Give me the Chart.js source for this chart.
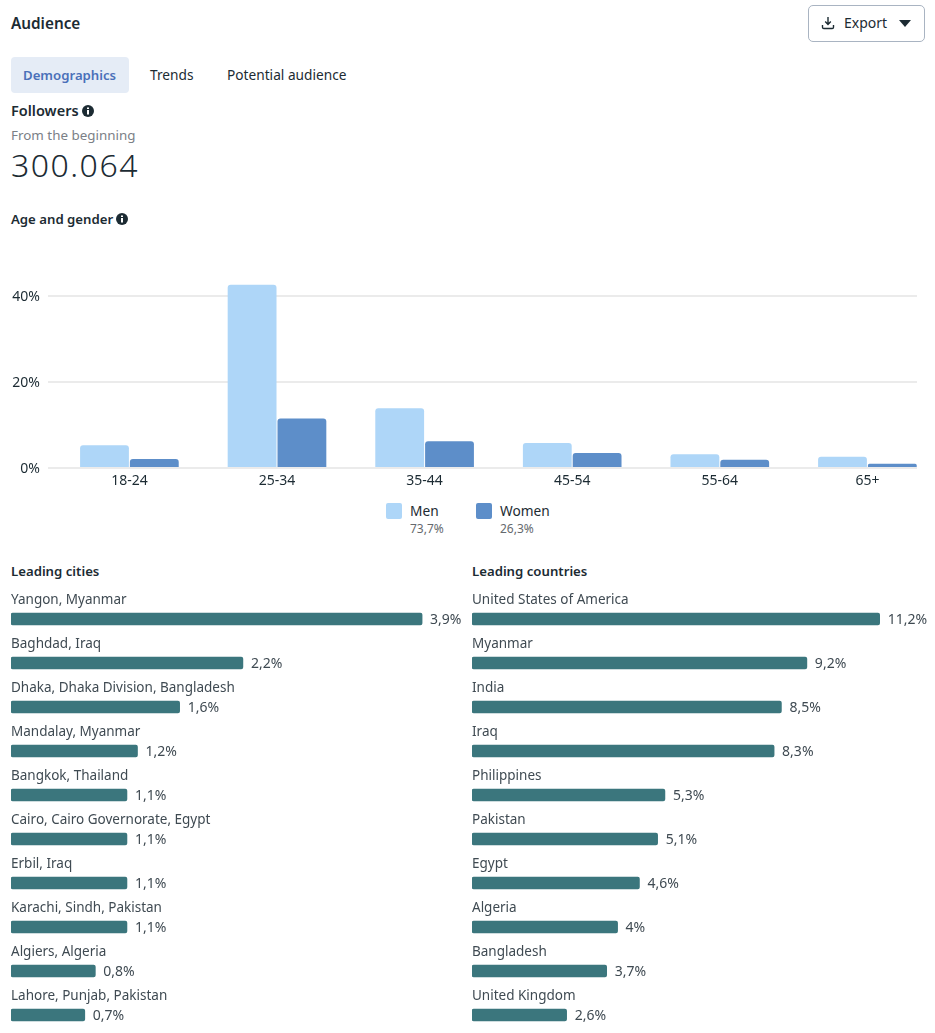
<!DOCTYPE html>
<html>
<head>
<meta charset="utf-8">
<title>Audience</title>
<script src="https://cdn.jsdelivr.net/npm/chart.js@4"></script>
<style>
  html, body { margin: 0; padding: 0; background: #fff; }
  body { position: relative; width: 935px; height: 1033px; overflow: hidden; font-family: "Noto Sans", sans-serif; font-size: 13.7px; color: #1c2b33; }
  .abs { position: absolute; white-space: nowrap; line-height: 18px; }
  .bold { font-weight: 600; font-size: 13.2px; }
  .tab { position: absolute; left: 11px; top: 57px; width: 118px; height: 36px; background: #e5ecf6; border-radius: 4px; }
  .export { position: absolute; left: 808px; top: 5px; width: 115px; height: 35px; border: 1px solid #a9b4c2; border-radius: 5px; }
  .swatch { position: absolute; width: 16px; height: 16px; border-radius: 2px; }
  canvas { position: absolute; }
  svg { position: absolute; }
</style>
</head>
<body>
<div class="abs bold" style="left:11px;top:14px;font-size:15.3px">Audience</div>
<div class="export"></div>
<svg style="left:821px;top:16px" width="14" height="14" viewBox="0 0 14 14" fill="none" stroke="#1c2b33" stroke-width="1.4"><path d="M7 1v7M4.2 5.6 7 8.4l2.8-2.8M1.5 9v2.2c0 .8.6 1.3 1.3 1.3h8.4c.7 0 1.3-.5 1.3-1.3V9"/></svg>
<div class="abs" style="left:844px;top:14px;font-size:14px">Export</div>
<svg style="left:899px;top:20px" width="12" height="7" viewBox="0 0 12 7"><path d="M0 0h12L6 7z" fill="#1c2b33"/></svg>

<div class="tab"></div>
<div class="abs bold" style="left:23px;top:66px;color:#4a70b9">Demographics</div>
<div class="abs" style="left:150px;top:66px">Trends</div>
<div class="abs" style="left:227px;top:66px">Potential audience</div>

<div class="abs bold" style="left:11px;top:101px;font-size:14.5px">Followers</div>
<svg style="left:82px;top:105px" width="12" height="12" viewBox="0 0 12 12"><circle cx="6" cy="6" r="6" fill="#1c2b33"/><path d="M5 5h2v4.6H5zM5 2.4h2v1.7H5z" fill="#fff"/></svg>
<div class="abs" style="left:11px;top:126px;color:#7b8087;font-size:13.4px">From the beginning</div>
<div class="abs" style="left:11px;top:146px;font-size:32px;line-height:38px;font-weight:300;letter-spacing:1.5px">300.064</div>
<div class="abs bold" style="left:11px;top:210px">Age and gender</div>
<svg style="left:116px;top:213px" width="12" height="12" viewBox="0 0 12 12"><circle cx="6" cy="6" r="6" fill="#1c2b33"/><path d="M5 5h2v4.6H5zM5 2.4h2v1.7H5z" fill="#fff"/></svg>

<canvas id="ageChart" width="935" height="235" style="left:0;top:265px"></canvas>

<div class="swatch" style="left:386px;top:503px;background:#aed6f8"></div>
<div class="abs" style="left:410px;top:502px" id="menName"></div>
<div class="abs" style="left:410px;top:520px;font-size:12px;color:#65696e" id="menShare"></div>
<div class="swatch" style="left:476px;top:503px;background:#5d8ec9"></div>
<div class="abs" style="left:500px;top:502px" id="womenName"></div>
<div class="abs" style="left:500px;top:520px;font-size:12px;color:#65696e" id="womenShare"></div>

<div class="abs bold" style="left:11px;top:562px">Leading cities</div>
<div class="abs bold" style="left:472px;top:562px">Leading countries</div>
<canvas id="cityChart" width="458" height="450" style="left:11px;top:587px"></canvas>
<canvas id="countryChart" width="463" height="450" style="left:472px;top:587px"></canvas>

<script>
const ageGroups = ["18-24", "25-34", "35-44", "45-54", "55-64", "65+"];
const menValues = [5.3, 42.6, 13.9, 5.8, 3.2, 2.6];
const womenValues = [2.1, 11.5, 6.2, 3.5, 1.9, 1.0];
const genderNames = ["Men", "Women"];
const genderShares = ["73,7%", "26,3%"];

const cities = ["Yangon, Myanmar", "Baghdad, Iraq", "Dhaka, Dhaka Division, Bangladesh", "Mandalay, Myanmar", "Bangkok, Thailand", "Cairo, Cairo Governorate, Egypt", "Erbil, Iraq", "Karachi, Sindh, Pakistan", "Algiers, Algeria", "Lahore, Punjab, Pakistan"];
const cityValues = [3.9, 2.2, 1.6, 1.2, 1.1, 1.1, 1.1, 1.1, 0.8, 0.7];

const countries = ["United States of America", "Myanmar", "India", "Iraq", "Philippines", "Pakistan", "Egypt", "Algeria", "Bangladesh", "United Kingdom"];
const countryValues = [11.2, 9.2, 8.5, 8.3, 5.3, 5.1, 4.6, 4, 3.7, 2.6];

Chart.defaults.font.family = "'Noto Sans', sans-serif";
Chart.defaults.font.size = 14;
Chart.defaults.color = "#1c2b33";
Chart.defaults.animation = false;

document.getElementById("menName").textContent = genderNames[0];
document.getElementById("menShare").textContent = genderShares[0];
document.getElementById("womenName").textContent = genderNames[1];
document.getElementById("womenShare").textContent = genderShares[1];

const pct = v => String(v).replace(".", ",") + "%";

// drop the room chart.js keeps for half a tick label, the plot edges are set by hand here
const noPad = s => { s.paddingTop = 0; s.paddingBottom = 0; };

// x is linear so the plot can stay lopsided like the original (more room left of the first group)
new Chart(document.getElementById("ageChart"), {
  type: "bar",
  data: {
    datasets: [
      { label: genderNames[0], data: menValues.map((v, i) => ({ x: i, y: v })), backgroundColor: "#aed6f8", borderRadius: { topLeft: 3, topRight: 3 }, borderSkipped: "bottom" },
      { label: genderNames[1], data: womenValues.map((v, i) => ({ x: i, y: v })), backgroundColor: "#5d8ec9", borderRadius: { topLeft: 3, topRight: 3 }, borderSkipped: "bottom" }
    ]
  },
  options: {
    responsive: false,
    layout: { padding: { top: 9.5, right: 18 } },
    datasets: { bar: { categoryPercentage: 0.675, barPercentage: 0.98 } },
    plugins: { legend: { display: false }, tooltip: { enabled: false } },
    scales: {
      x: {
        type: "linear",
        offset: false,
        min: -0.5515,
        max: 5.336,
        grid: { display: false, drawTicks: false },
        border: { display: false },
        afterFit: s => { s.height = 32; s.paddingLeft = 0; s.paddingRight = 0; },
        ticks: { stepSize: 1, includeBounds: false, maxRotation: 0, autoSkip: false, padding: 5, callback: v => ageGroups[v] }
      },
      y: {
        min: 0,
        max: 45,
        afterFit: s => { s.width = 48; noPad(s); },
        grid: { color: "#ebebeb", lineWidth: 2, drawTicks: false },
        border: { display: false },
        ticks: { stepSize: 20, includeBounds: false, padding: 8, labelOffset: 1, callback: v => v + "%" }
      }
    }
  }
});

// value at the end of each bar
const barValues = {
  id: "barValues",
  afterDatasetsDraw(chart) {
    const ctx = chart.ctx;
    const ds = chart.data.datasets[0];
    ctx.save();
    ctx.font = "14px 'Noto Sans', sans-serif";
    ctx.fillStyle = "#3f4a52";
    ctx.textBaseline = "middle";
    chart.getDatasetMeta(0).data.forEach((bar, i) => {
      ctx.fillText(pct(ds.data[i]), bar.x + 8, bar.y + 1.5);
    });
    ctx.restore();
  }
};

function rankChart(id, names, values, max) {
  new Chart(document.getElementById(id), {
    type: "bar",
    data: {
      labels: names,
      datasets: [{ data: values, backgroundColor: "#3b767d", barThickness: 12, borderRadius: 2, borderSkipped: false }]
    },
    options: {
      responsive: false,
      indexAxis: "y",
      layout: { padding: { top: 10 } },
      plugins: { legend: { display: false }, tooltip: { enabled: false } },
      scales: {
        x: { display: false, min: 0, max: max },
        y: {
          afterFit: s => { s.width = 0; noPad(s); },
          grid: { display: false },
          border: { display: false },
          ticks: { mirror: true, padding: 0, labelOffset: -19, autoSkip: false, color: "#3f4a52", font: { size: 13.5 } }
        }
      }
    },
    plugins: [barValues]
  });
}

rankChart("cityChart", cities, cityValues, 4.345);
rankChart("countryChart", countries, countryValues, 12.72);
</script>
</body>
</html>
